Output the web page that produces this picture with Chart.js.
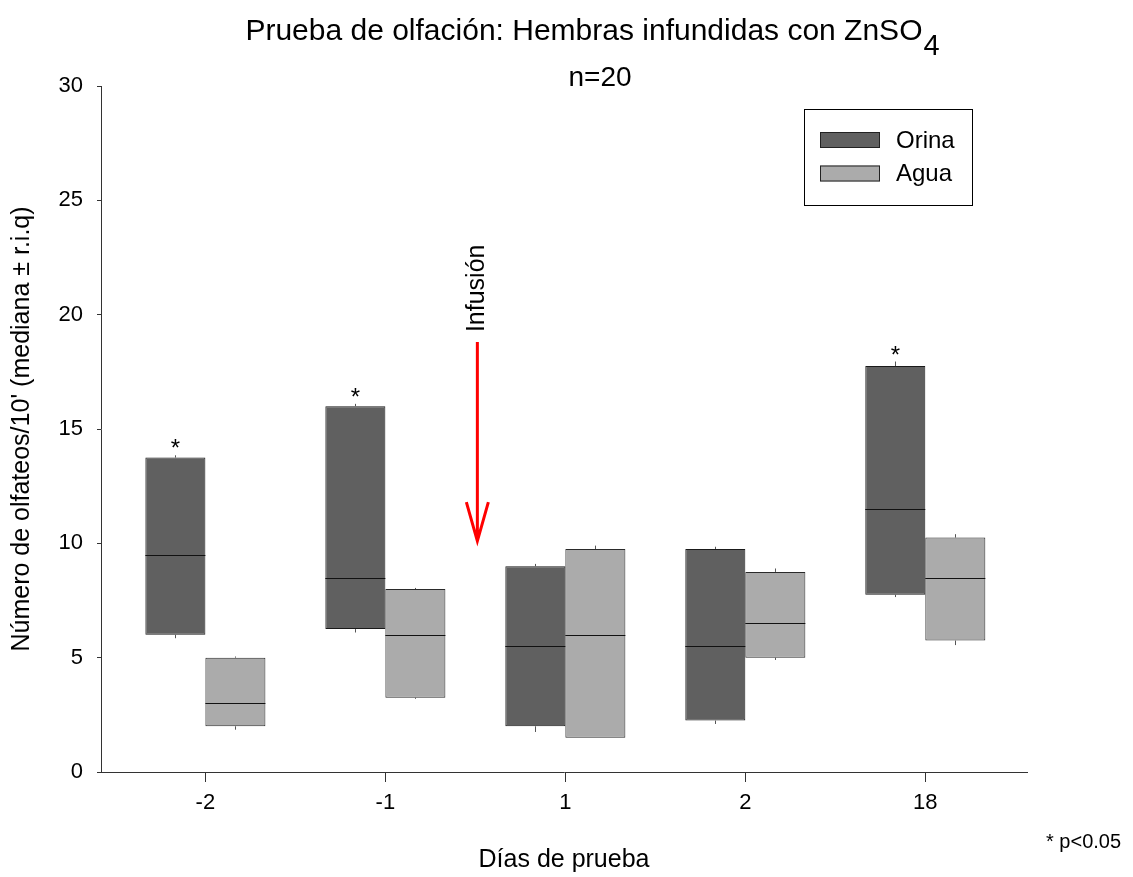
<!DOCTYPE html>
<html>
<head>
<meta charset="utf-8">
<script src="https://cdn.jsdelivr.net/npm/chart.js@4/dist/chart.umd.min.js"></script>
<style>
  html, body { margin: 0; padding: 0; background: #fff; }
  canvas { display: block; }
</style>
</head>
<body>
<canvas id="chart" width="1133" height="877"></canvas>
<script>
// Días de prueba (categorías del eje X)
const days = ['-2', '-1', '1', '2', '18'];

// Orina: cuartiles, mediana y extremos de los bigotes
const orinaQ1 = [6, 6.25, 2, 2.25, 7.75];
const orinaQ3 = [13.75, 16, 9, 9.75, 17.75];
const orinaMedian = [9.5, 8.5, 5.5, 5.5, 11.5];
const orinaLow = [5.85, 6.1, 1.75, 2.1, 7.65];
const orinaHigh = [13.85, 16.1, 9.1, 9.85, 17.95];

// Agua
const aguaQ1 = [2, 3.25, 1.5, 5, 5.75];
const aguaQ3 = [5, 8, 9.75, 8.75, 10.25];
const aguaMedian = [3, 6, 6, 6.5, 8.5];
const aguaLow = [1.85, 3.2, 1.5, 4.9, 5.55];
const aguaHigh = [5.05, 8.05, 9.9, 8.9, 10.4];

// * p<0.05 (Orina vs Agua)
const significant = [true, true, false, false, true];

// Flecha de infusión: entre el día -1 y el día 1
const infusionAt = 1.5;
const infusionFrom = 18.8;
const infusionTo = 10.1;

const FONT = '"Liberation Sans", Arial, sans-serif';

function boxData(q1, q3) {
    return days.map((_, i) => ({ x: i, y: [q1[i], q3[i]] }));
}

const boxExtras = {
    id: 'boxExtras',
    afterDatasetsDraw(chart) {
        const ctx = chart.ctx;
        const ys = chart.scales.y;
        const xs = chart.scales.x;
        ctx.save();
        chart.data.datasets.forEach((ds, d) => {
            const meta = chart.getDatasetMeta(d);
            meta.data.forEach((bar, i) => {
                const half = bar.width / 2;
                const cx = Math.round(bar.x) + 0.5;
                // bigotes
                ctx.strokeStyle = '#555';
                ctx.lineWidth = 1;
                ctx.beginPath();
                ctx.moveTo(cx, ys.getPixelForValue(ds.q3[i]));
                ctx.lineTo(cx, ys.getPixelForValue(ds.high[i]));
                ctx.moveTo(cx, ys.getPixelForValue(ds.q1[i]));
                ctx.lineTo(cx, ys.getPixelForValue(ds.low[i]));
                ctx.stroke();
                // mediana
                const my = Math.round(ys.getPixelForValue(ds.median[i])) + 0.5;
                ctx.strokeStyle = '#111';
                ctx.beginPath();
                ctx.moveTo(bar.x - half, my);
                ctx.lineTo(bar.x + half, my);
                ctx.stroke();
                // asterisco
                if (d === 0 && significant[i]) {
                    ctx.fillStyle = '#000';
                    ctx.font = '24px ' + FONT;
                    ctx.textAlign = 'center';
                    ctx.textBaseline = 'alphabetic';
                    ctx.fillText('*', bar.x, ys.getPixelForValue(ds.high[i]) + 1);
                }
            });
        });

        // flecha roja de infusión
        const ax = xs.getPixelForValue(infusionAt) + 2;
        const top = ys.getPixelForValue(infusionFrom);
        const tip = ys.getPixelForValue(infusionTo);
        ctx.strokeStyle = '#ff0000';
        ctx.lineWidth = 3;
        ctx.beginPath();
        ctx.moveTo(ax, top);
        ctx.lineTo(ax, tip);
        ctx.moveTo(ax - 11, tip - 39);
        ctx.lineTo(ax, tip);
        ctx.lineTo(ax + 11, tip - 39);
        ctx.stroke();

        ctx.fillStyle = '#000';
        ctx.font = '25px ' + FONT;
        ctx.textAlign = 'left';
        ctx.textBaseline = 'alphabetic';
        ctx.translate(ax + 7, top - 10);
        ctx.rotate(-Math.PI / 2);
        ctx.fillText('Infusión', 0, 0);
        ctx.restore();
    },
    afterDraw(chart) {
        const ctx = chart.ctx;
        ctx.save();
        ctx.fillStyle = '#000';
        ctx.textBaseline = 'alphabetic';

        // título con subíndice
        const main = 'Prueba de olfación: Hembras infundidas con ZnSO';
        ctx.font = '30px ' + FONT;
        const w1 = ctx.measureText(main).width;
        ctx.font = '29px ' + FONT;
        const w2 = ctx.measureText('4').width;
        const x0 = 592 - (w1 + w2) / 2;
        ctx.font = '30px ' + FONT;
        ctx.textAlign = 'left';
        ctx.fillText(main, x0, 40);
        ctx.font = '29px ' + FONT;
        ctx.fillText('4', x0 + w1 + 1, 55);

        ctx.font = '28px ' + FONT;
        ctx.textAlign = 'center';
        ctx.fillText('n=20', 600, 86);

        // leyenda
        ctx.strokeStyle = '#000';
        ctx.lineWidth = 1;
        ctx.strokeRect(804.5, 109.5, 168, 96);
        ctx.font = '24px ' + FONT;
        ctx.textAlign = 'left';
        ctx.textBaseline = 'middle';
        chart.data.datasets.forEach((ds, d) => {
            const yy = 132 + d * 33.5;
            ctx.fillStyle = ds.backgroundColor;
            ctx.fillRect(820, yy, 60, 16);
            ctx.strokeStyle = '#222';
            ctx.strokeRect(820.5, yy + 0.5, 59, 15);
            ctx.fillStyle = '#000';
            ctx.fillText(ds.label, 896, yy + 9);
        });

        // nota
        ctx.font = '20px ' + FONT;
        ctx.textBaseline = 'alphabetic';
        ctx.fillText('* p<0.05', 1046, 848);
        ctx.restore();
    }
};

new Chart(document.getElementById('chart'), {
    type: 'bar',
    data: {
        datasets: [
            {
                label: 'Orina',
                data: boxData(orinaQ1, orinaQ3),
                q1: orinaQ1, q3: orinaQ3, median: orinaMedian, low: orinaLow, high: orinaHigh,
                backgroundColor: '#606060',
                borderColor: '#1a1a1a',
                borderWidth: 1,
                borderSkipped: false
            },
            {
                label: 'Agua',
                data: boxData(aguaQ1, aguaQ3),
                q1: aguaQ1, q3: aguaQ3, median: aguaMedian, low: aguaLow, high: aguaHigh,
                backgroundColor: '#ababab',
                borderColor: '#2a2a2a',
                borderWidth: 1,
                borderSkipped: false
            }
        ]
    },
    options: {
        responsive: false,
        animation: false,
        devicePixelRatio: 1,
        categoryPercentage: 0.667,
        barPercentage: 1.0,
        layout: { padding: { top: 86, right: 106, left: 0, bottom: 0 } },
        plugins: {
            legend: { display: false },
            tooltip: { enabled: false },
            title: { display: false }
        },
        scales: {
            x: {
                type: 'linear',
                offset: false,
                min: -0.58,
                max: 4.565,
                afterBuildTicks: s => { s.ticks = days.map((_, i) => ({ value: i })); },
                ticks: {
                    callback: v => days[v],
                    color: '#000',
                    font: { family: FONT, size: 22 },
                    padding: 8,
                    maxRotation: 0
                },
                grid: { drawOnChartArea: false, tickLength: 10, color: '#333', offset: false },
                border: { color: '#333', width: 1 },
                title: {
                    display: true,
                    text: 'Días de prueba',
                    color: '#000',
                    font: { family: FONT, size: 25 },
                    padding: { top: 0, bottom: 2 }
                },
                afterFit: s => { s.height = 105; }
            },
            y: {
                min: 0,
                max: 30,
                ticks: {
                    stepSize: 5,
                    color: '#000',
                    font: { family: FONT, size: 22 },
                    padding: 14
                },
                grid: { drawOnChartArea: false, tickLength: 4, color: '#333' },
                border: { color: '#333', width: 1 },
                title: {
                    display: true,
                    text: "Número de olfateos/10' (mediana ± r.i.q)",
                    color: '#000',
                    font: { family: FONT, size: 25 },
                    padding: { top: 7, bottom: 0 }
                },
                afterFit: s => { s.width = 101; }
            }
        }
    },
    plugins: [boxExtras]
});
</script>
</body>
</html>
